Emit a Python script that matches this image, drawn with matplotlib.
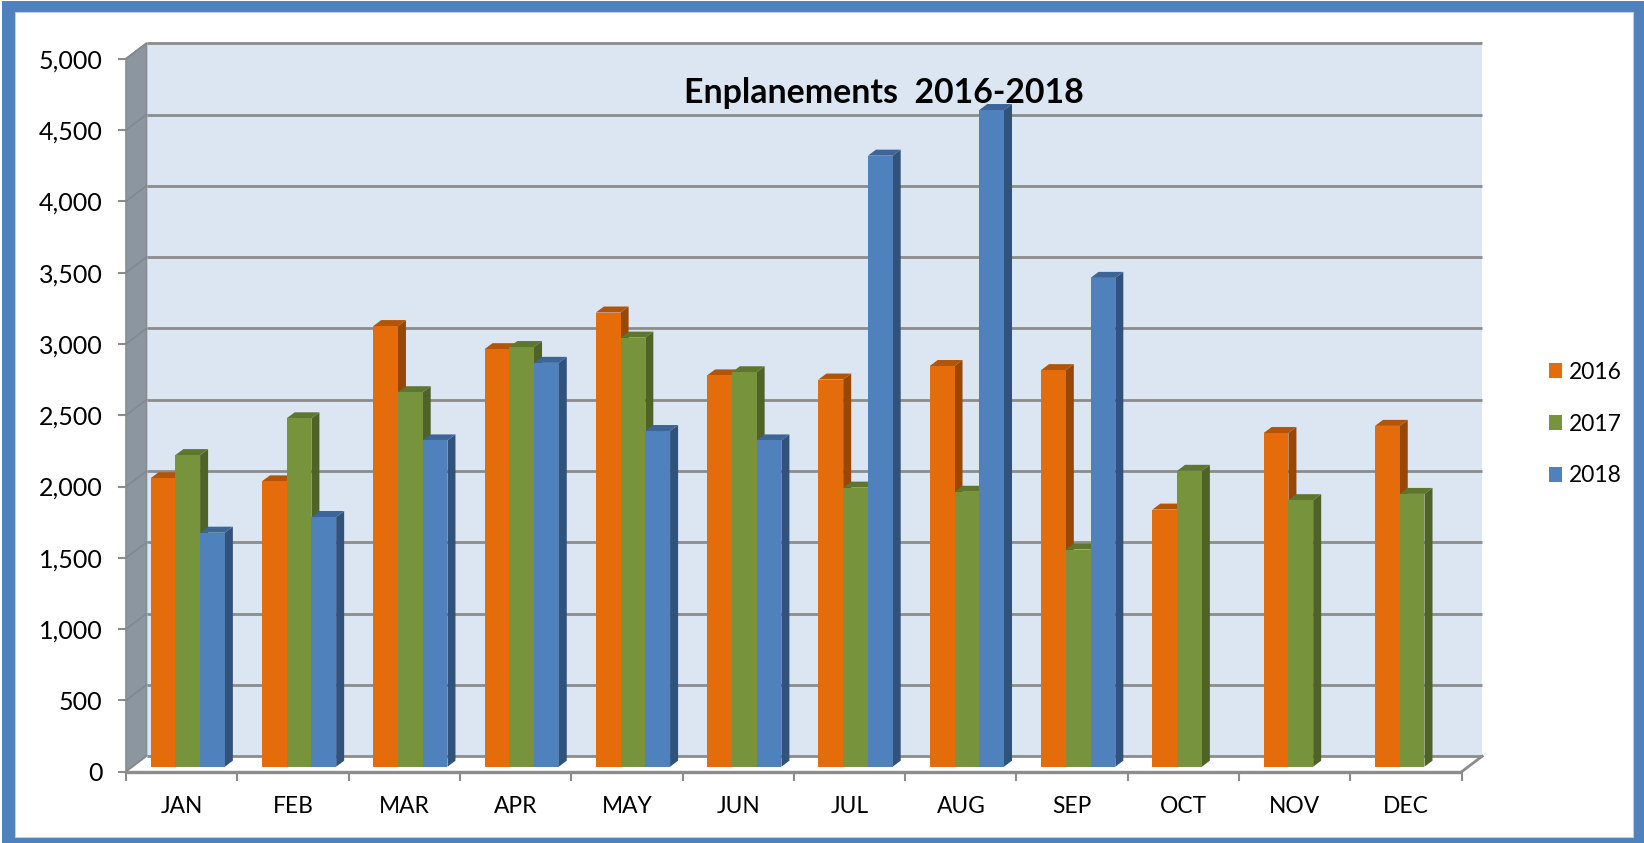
import matplotlib
matplotlib.use("Agg")
import matplotlib.pyplot as plt
from matplotlib.patches import Polygon, Rectangle, Patch
from matplotlib.ticker import FuncFormatter

months = ["JAN","FEB","MAR","APR","MAY","JUN","JUL","AUG","SEP","OCT","NOV","DEC"]
v2016 = [2023,2001,3090,2928,3185,2744,2715,2810,2781,1803,2340,2390]
v2017 = [2185,2443,2626,2943,3009,2766,1957,1928,1523,2075,1869,1913]
v2018 = [1641,1751,2288,2832,2354,2288,4285,4605,3428]
series = [("2016", v2016, "#E46C0A", "#974806", "#B25509"),
          ("2017", v2017, "#77933C", "#4F6228", "#5F762F"),
          ("2018", v2018, "#4F81BD", "#31527A", "#3D6597")]
title = "Enplanements  2016-2018"
FONT = "Lato"
W, H = 1644, 843
plt.rcParams["font.family"] = FONT

fig = plt.figure(figsize=(W/100, H/100), dpi=100, facecolor="white")
# frame
fig.patches.append(Rectangle((2/W, 0), (W-2)/W, (H-1)/H, transform=fig.transFigure, fc="#4F81BD", ec="none", zorder=-5))
fig.patches.append(Rectangle((15/W, 6.5/H), (1633-15)/W, (837-12)/H, transform=fig.transFigure, fc="white", ec="#B9CDE5", lw=0.8, zorder=-4))

x0, x1, ytop, ybot = 126, 1461.7, 58.7, 771.7
ax = fig.add_axes([x0/W, 1-ybot/H, (x1-x0)/W, (ybot-ytop)/H])
ax.set_xlim(0, 12); ax.set_ylim(0, 5000)
ax.patch.set_visible(False)
for s in ax.spines.values():
    s.set_visible(False)

# unit conversions (px -> data) for the pseudo-3D depth
px_x = 12/(x1-x0); px_y = 5000/(ybot-ytop)
dx, dy = 20.5*px_x, 15.5*px_y
GRID = "#8C8C8C"
# walls
ax.add_patch(Polygon([(dx,dy),(12+dx,dy),(12+dx,5000+dy),(dx,5000+dy)], fc="#DCE6F2", ec="none", clip_on=False, zorder=1))
ax.add_patch(Polygon([(0,0),(dx,dy),(dx,5000+dy),(0,5000)], fc="#8C96A0", ec="#8C8C8C", lw=1.2, clip_on=False, zorder=1))
ax.add_patch(Polygon([(0,0),(12,0),(12+dx,dy),(dx,dy)], fc="white", ec="none", clip_on=False, zorder=1))
for v in range(0, 5001, 500):
    ax.plot([dx, 12+dx], [v+dy, v+dy], color=GRID, lw=2.0, clip_on=False, zorder=2, solid_capstyle="butt")
    ax.plot([0, dx], [v, v+dy], color="#80878F", lw=1.1, clip_on=False, zorder=2)
ax.plot([0, 12], [0, 0], color=GRID, lw=2.4, clip_on=False, zorder=2, solid_capstyle="butt")
ax.plot([12, 12+dx], [0, dy], color=GRID, lw=2.0, clip_on=False, zorder=2)

# bars
bw = 24.75*px_x
gx0 = 24.6*px_x
bd_x, bd_y = 8*px_x, 6*px_y
base = 5*px_y
z = 3
for m in range(12):
    for j, (name, vals, c, side, top) in enumerate(series):
        if m >= len(vals):
            continue
        v = vals[m]
        l = m + gx0 + j*bw
        r = l + bw
        t = base + v
        ax.add_patch(Polygon([(r,base),(r+bd_x,base+bd_y),(r+bd_x,t+bd_y),(r,t)], fc=side, ec="none", clip_on=False, zorder=z))
        ax.add_patch(Polygon([(l,t),(r,t),(r+bd_x,t+bd_y),(l+bd_x,t+bd_y)], fc=top, ec="none", clip_on=False, zorder=z))
        ax.bar(l, v, bw, bottom=base, align="edge", color=c, lw=0, clip_on=False, zorder=z+0.5)
        z += 1

# axes ticks
ax.set_yticks(range(0, 5001, 500))
ax.yaxis.set_major_formatter(FuncFormatter(lambda v, p: f"{int(v):,}"))
ax.set_xticks(range(13))
ax.set_xticklabels([])
ax.set_xticks([i+0.5 for i in range(12)], minor=True)
ax.set_xticklabels(months, minor=True)
ax.tick_params(axis="y", length=6, width=1.5, color=GRID, labelsize=18, pad=11, labelcolor="black")
ax.tick_params(axis="x", which="major", length=6.5, width=1.5, color=GRID)
ax.tick_params(axis="x", which="minor", length=0, labelsize=16.4, pad=17.5, labelcolor="black")

fig.text(884/W, 1-93/H, title, ha="center", va="center", fontsize=24.4, fontweight="bold", color="black", zorder=100)

handles = [Patch(fc=s[2], ec="none", label=s[0]) for s in series]
fig.legend(handles=handles, loc="center left", bbox_to_anchor=(1544/W, 1-424/H), frameon=False,
           fontsize=16.4, handlelength=0.61, handleheight=0.61, handletextpad=0.3, labelspacing=1.36,
           borderpad=0.2, borderaxespad=0)

fig.savefig("out.png", dpi=100, facecolor="white")
